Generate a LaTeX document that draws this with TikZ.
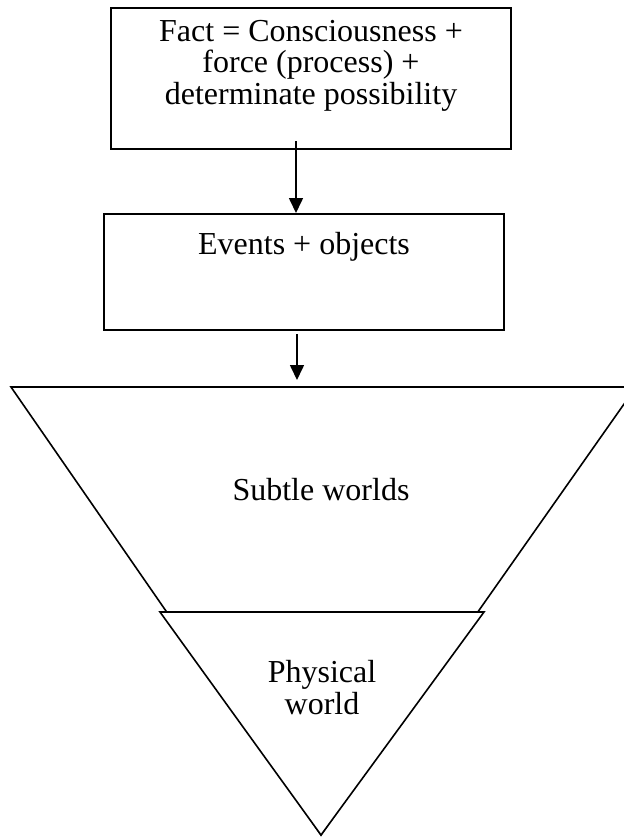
\documentclass[tikz,border=0pt]{standalone}
\usepackage{fontspec}
\setmainfont{Liberation Serif}
\usepackage{tikz}
\usetikzlibrary{arrows.meta}
\tikzset{
  box/.style={draw, line width=1pt, inner sep=0pt, minimum width=200pt, align=center,
    font=\fontsize{16}{15.75}\selectfont},
  label/.style={inner sep=0pt, align=center, font=\fontsize{16}{15.75}\selectfont},
  tri/.style={draw, line width=0.8pt},
  arrow/.style={-{Triangle[length=7.5pt,width=7pt]}, line width=0.8pt}
}
\begin{document}
\begin{tikzpicture}[x=0.5pt,y=-0.5pt]
  \clip (0,0) rectangle (624,837);
  \node[box, anchor=north, text height=48pt, text depth=22.5pt] (fact) at (311,7) {Fact = Consciousness +\\force (process) +\\determinate possibility};
  \node[box, anchor=north, text height=20pt, text depth=38pt] (events) at (304,213) {Events + objects};
  \draw[tri] (11,387) -- (636,387) -- (321,835) -- cycle;
  \draw[tri, fill=white] (160,612) -- (484,612) -- (321,835) -- cycle;
  \node[label, anchor=base] (subtle) at (321,500) {Subtle worlds};
  \node[label, anchor=base] (physical) at (322,714) {Physical\\world};
  \coordinate (a1) at (296,141);
  \coordinate (a2) at (297,380);
  \draw[arrow] (a1) -- (a1 |- events.north);
  \draw[arrow] (a2 |- events.south) ++(0,3) -- (a2);
\end{tikzpicture}
\end{document}
